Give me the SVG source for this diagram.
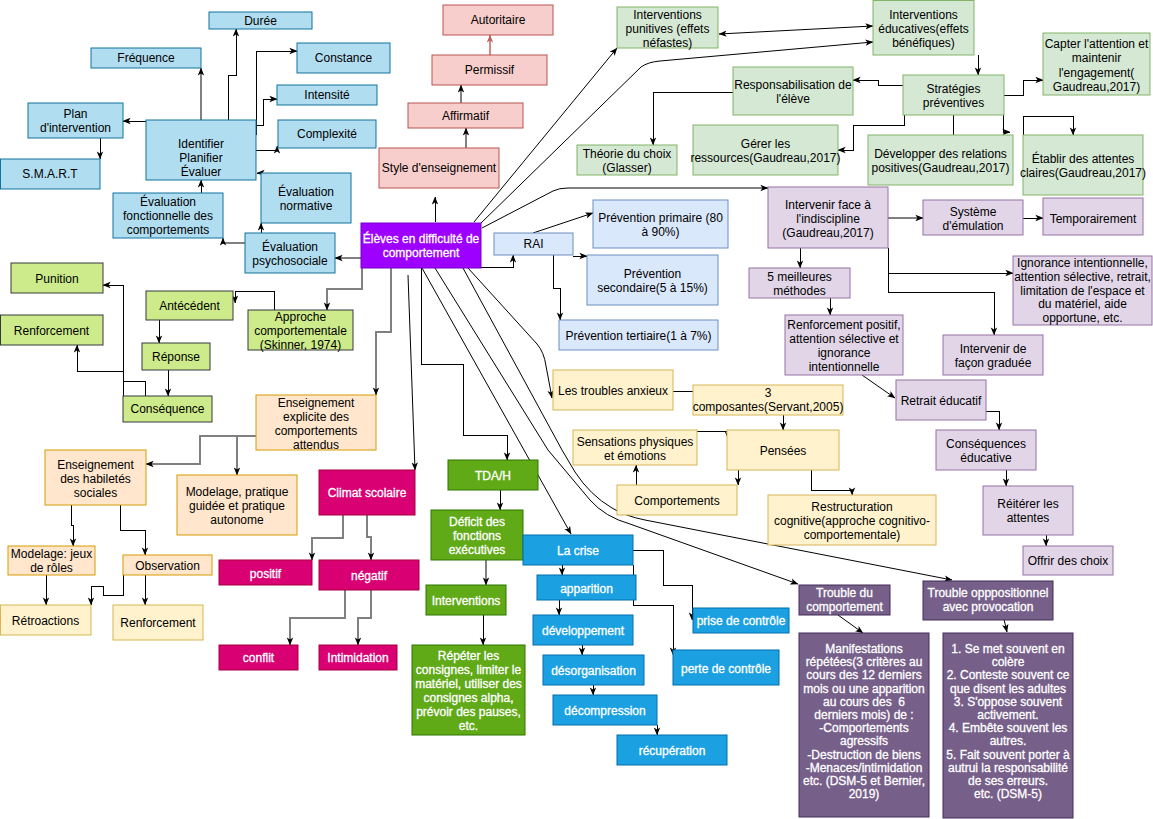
<svg xmlns="http://www.w3.org/2000/svg" width="1153" height="819" viewBox="0 0 1153 819">
<style>
text{font-family:"Liberation Sans",Arial,Helvetica,sans-serif;font-size:12px;text-anchor:middle;fill:#000}
.w{fill:#fff;stroke:#fff;stroke-width:0.3}
rect{stroke-width:1}
.blue{fill:#b1ddf0;stroke:#10739e}
.pink{fill:#f8cecc;stroke:#b85450}
.lg{fill:#d5e8d4;stroke:#82b366}
.lb{fill:#dae8fc;stroke:#6c8ebf}
.lp{fill:#e1d5e7;stroke:#9673a6}
.lime{fill:#cdeb8b;stroke:#36393d}
.or{fill:#ffe6cc;stroke:#d79b00}
.ye{fill:#fff2cc;stroke:#d6b656}
.mg{fill:#d80073;stroke:#a50040}
.dg{fill:#60a917;stroke:#2d7600}
.cr{fill:#1ba1e2;stroke:#006eaf}
.dp{fill:#76608a;stroke:#432d57}
.main{fill:#9d00ff;stroke:#7700cc}
#connectors path{fill:none;stroke:#000;stroke-width:1}
#connectors path.o{shape-rendering:crispEdges}
#connectors path.g{stroke:#808080;stroke-width:2}
#connectors path.pk{stroke:#d08a88;stroke-width:1.5}
</style>
<defs>
<marker id="a" viewBox="0 0 10 10" refX="9.5" refY="5" markerWidth="8" markerHeight="8" markerUnits="userSpaceOnUse" orient="auto-start-reverse"><path d="M0,1 L10,5 L0,9 L2.5,5 z" fill="#000"/></marker>
<marker id="ap" viewBox="0 0 10 10" refX="9.5" refY="5" markerWidth="8" markerHeight="8" markerUnits="userSpaceOnUse" orient="auto"><path d="M0,1 L10,5 L0,9 L2.5,5 z" fill="#c0605c"/></marker>
</defs>
<g id="connectors">
<path class="o g" d="M201,120 V68" marker-end="url(#a)"/>
<path class="o" d="M228,120 V75 H236 V29" marker-end="url(#a)"/>
<path class="o" d="M256,135 V51 H297" marker-end="url(#a)"/>
<path class="o" d="M256,125 H263 V99 H277" marker-end="url(#a)"/>
<path class="o" d="M256,150 H277 V146" marker-end="url(#a)"/>
<path class="o" d="M146,121 H123" marker-end="url(#a)"/>
<path class="o" d="M100,138 V159" marker-end="url(#a)"/>
<path class="o" d="M201,193 V180" marker-end="url(#a)"/>
<path class="o" d="M284,173 H257" marker-end="url(#a)"/>
<path class="o" d="M261,233 V223" marker-end="url(#a)"/>
<path class="o g" d="M245,243 H223 V238" marker-end="url(#a)"/>
<path class="o g" d="M361,258 H335" marker-end="url(#a)"/>
<path class="o" d="M435,222 V197" marker-end="url(#a)"/>
<path class="o g" d="M466,148 V128" marker-end="url(#a)"/>
<path class="o g" d="M461,103 V85" marker-end="url(#a)"/>
<path class="o pk" d="M490,55 V35" marker-end="url(#ap)"/>
<path class="o" d="M481,267 H513 V255" marker-end="url(#a)"/>
<path class="o" d="M573,256 H587" marker-end="url(#a)"/>
<path class="o" d="M553,255 V288 H560 V320" marker-end="url(#a)"/>
<path class="o g" d="M362,268 V289 H327 V310" marker-end="url(#a)"/>
<path class="o" d="M274,310 V291 H235 V303" marker-end="url(#a)"/>
<path class="o" d="M159,320 V343" marker-end="url(#a)"/>
<path class="o" d="M168,370 V396" marker-end="url(#a)"/>
<path class="o" d="M123,396 V285 H103" marker-end="url(#a)"/>
<path class="o" d="M145,396 V381 H123 V371 H77 V345" marker-end="url(#a)"/>
<path class="o g" d="M391,268 V332 H376 V395" marker-end="url(#a)"/>
<path class="o" d="M421,268 V364 H463 V435 H507 V460" marker-end="url(#a)"/>
<path class="o" d="M673,391 H693"/>
<path class="o" d="M783,415 V430" marker-end="url(#a)"/>
<path class="o" d="M697,431 H728 V439" marker-end="url(#a)"/>
<path class="o" d="M636,485 V465" marker-end="url(#a)"/>
<path class="o" d="M738,470 V485" marker-end="url(#a)"/>
<path class="o" d="M811,470 V490 H852 V495" marker-end="url(#a)"/>
<path class="o" d="M562,565 V575" marker-end="url(#a)"/>
<path class="o" d="M559,600 V615" marker-end="url(#a)"/>
<path class="o" d="M582,645 V655" marker-end="url(#a)"/>
<path class="o" d="M593,685 V695" marker-end="url(#a)"/>
<path class="o" d="M657,725 V735" marker-end="url(#a)"/>
<path class="o" d="M633,550 H663 V585 H692 V620" marker-end="url(#a)"/>
<path class="o" d="M633,565 V605 H673 V655" marker-end="url(#a)"/>
<path class="o" d="M500,490 V510" marker-end="url(#a)"/>
<path class="o g" d="M486,560 V585" marker-end="url(#a)"/>
<path class="o" d="M483,615 V645" marker-end="url(#a)"/>
<path class="o g" d="M343,515 V538 H312 V560" marker-end="url(#a)"/>
<path class="o g" d="M367,515 V537 H371 V560" marker-end="url(#a)"/>
<path class="o g" d="M345,590 V618 H290 V645" marker-end="url(#a)"/>
<path class="o g" d="M371,590 V618 H358 V645" marker-end="url(#a)"/>
<path class="o g" d="M256,436 H200 V464 H146" marker-end="url(#a)"/>
<path class="o g" d="M237,436 V475" marker-end="url(#a)"/>
<path class="o" d="M71,505 V525 H73 V546" marker-end="url(#a)"/>
<path class="o" d="M120,505 V530 H145 V555" marker-end="url(#a)"/>
<path class="o" d="M46,575 V605" marker-end="url(#a)"/>
<path class="o" d="M123,575 V595 H103 V586 H91 V605" marker-end="url(#a)"/>
<path class="o" d="M145,575 V605" marker-end="url(#a)"/>
<path class="o" d="M1004,95 H1023 V80 H1043" marker-end="url(#a)"/>
<path class="o" d="M978,55 V75" marker-end="url(#a)"/>
<path class="o" d="M903,85 H878 V80 H853" marker-end="url(#a)"/>
<path class="o" d="M733,92 H653 V145" marker-end="url(#a)"/>
<path class="o" d="M904,115 V125 H853 V150 H838" marker-end="url(#a)"/>
<path class="o" d="M953,115 V135"/>
<path class="o" d="M1003,115 V132 H1010" marker-end="url(#a)"/>
<path class="o" d="M1023,135 V116 H1073 V135" marker-end="url(#a)"/>
<path class="o g" d="M888,218 H923" marker-end="url(#a)"/>
<path class="o" d="M1023,218 H1043" marker-end="url(#a)"/>
<path class="o" d="M800,248 V268" marker-end="url(#a)"/>
<path class="o" d="M888,248 V273 H1013" marker-end="url(#a)"/>
<path class="o" d="M888,273 V292 H994 V335" marker-end="url(#a)"/>
<path class="o" d="M830,298 V315" marker-end="url(#a)"/>
<path class="o" d="M986,411 H999 V430" marker-end="url(#a)"/>
<path class="o" d="M1006,470 V486" marker-end="url(#a)"/>
<path class="o" d="M1046,535 V546" marker-end="url(#a)"/>
<path d="M474,222 L617,48" marker-end="url(#a)"/>
<path d="M719,34 L873,26" marker-start="url(#a)" marker-end="url(#a)"/>
<path d="M480,224 L641,67 Q648,62 660,61 L873,42" marker-end="url(#a)"/>
<path d="M482,228 L553,191 Q559,188 568,188 H768" marker-end="url(#a)"/>
<path d="M533,233 L593,213" marker-end="url(#a)"/>
<path d="M408,275 L415,470" marker-end="url(#a)"/>
<path d="M422,268 L571,534" marker-end="url(#a)"/>
<path d="M468,268 L537,344 Q544,352 546,366 L552,398" marker-end="url(#a)"/>
<path d="M435,268 L548,450 L590,500 Q605,517 630,524 L798,584" marker-end="url(#a)"/>
<path d="M463,268 L562,450 L575,472 Q590,495 612,508 Q625,516 645,520 L952,580" marker-end="url(#a)"/>
<path d="M862,375 L895,398" marker-end="url(#a)"/>
<path d="M838,615 L863,633" marker-end="url(#a)"/>
<path d="M1003,615 L1007,632" marker-end="url(#a)"/>
</g>
<g id="n-duree"><rect class="blue" x="209" y="12" width="103" height="17"/><text x="260.5" y="24.5">Durée</text></g>
<g id="n-frequence"><rect class="blue" x="91" y="48" width="110" height="20"/><text x="146" y="62">Fréquence</text></g>
<g id="n-constance"><rect class="blue" x="297" y="43" width="93" height="30"/><text x="343.5" y="62">Constance</text></g>
<g id="n-intensite"><rect class="blue" x="277" y="85" width="100" height="20"/><text x="327" y="99">Intensité</text></g>
<g id="n-complexite"><rect class="blue" x="278" y="120" width="98" height="28"/><text x="327" y="138">Complexité</text></g>
<g id="n-plan"><rect class="blue" x="28" y="103" width="95" height="35"/><text x="75.5" y="118"><tspan x="75.5">Plan</tspan><tspan x="75.5" dy="14">d'intervention</tspan></text></g>
<g id="n-smart"><rect class="blue" x="0.5" y="159" width="99.5" height="30"/><text x="50" y="178">S.M.A.R.T</text></g>
<g id="n-identifier"><rect class="blue" x="146" y="120" width="110" height="60"/><text x="201" y="148"><tspan x="201">Identifier</tspan><tspan x="201" dy="14">Planifier</tspan><tspan x="201" dy="14">Évaluer</tspan></text></g>
<g id="n-fonctionnelle"><rect class="blue" x="113" y="193" width="110" height="45"/><text x="168" y="206"><tspan x="168">Évaluation</tspan><tspan x="168" dy="14">fonctionnelle des</tspan><tspan x="168" dy="14">comportements</tspan></text></g>
<g id="n-normative"><rect class="blue" x="261" y="173" width="90" height="50"/><text x="306" y="196"><tspan x="306">Évaluation</tspan><tspan x="306" dy="14">normative</tspan></text></g>
<g id="n-psychosociale"><rect class="blue" x="245" y="233" width="90" height="40"/><text x="290" y="251"><tspan x="290">Évaluation</tspan><tspan x="290" dy="14">psychosociale</tspan></text></g>
<g id="n-eleves"><rect class="main" x="361" y="223" width="120" height="45"/><text class="w" x="421" y="243"><tspan x="421">Élèves en difficulté de</tspan><tspan x="421" dy="14">comportement</tspan></text></g>
<g id="n-autoritaire"><rect class="pink" x="443" y="5" width="110" height="30"/><text x="498" y="24">Autoritaire</text></g>
<g id="n-permissif"><rect class="pink" x="432" y="55" width="115" height="30"/><text x="489.5" y="74">Permissif</text></g>
<g id="n-affirmatif"><rect class="pink" x="408" y="103" width="115" height="25"/><text x="465.5" y="120">Affirmatif</text></g>
<g id="n-style"><rect class="pink" x="379" y="148" width="120" height="40"/><text x="439" y="172">Style d'enseignement</text></g>
<g id="n-punitives"><rect class="lg" x="617" y="7" width="101" height="41"/><text x="667.5" y="19"><tspan x="667.5">Interventions</tspan><tspan x="667.5" dy="14">punitives (effets</tspan><tspan x="667.5" dy="14">néfastes)</tspan></text></g>
<g id="n-educatives"><rect class="lg" x="873" y="0.5" width="101" height="54.5"/><text x="923.5" y="19"><tspan x="923.5">Interventions</tspan><tspan x="923.5" dy="14">éducatives(effets</tspan><tspan x="923.5" dy="14">bénéfiques)</tspan></text></g>
<g id="n-capter"><rect class="lg" x="1043" y="33" width="107" height="62"/><text x="1096.5" y="48"><tspan x="1096.5">Capter l'attention et</tspan><tspan x="1096.5" dy="14.3">maintenir</tspan><tspan x="1096.5" dy="14.3">l'engagement(</tspan><tspan x="1096.5" dy="14.3">Gaudreau,2017)</tspan></text></g>
<g id="n-strategies"><rect class="lg" x="903" y="75" width="101" height="40"/><text x="953.5" y="93"><tspan x="953.5">Stratégies</tspan><tspan x="953.5" dy="14">préventives</tspan></text></g>
<g id="n-responsabilisation"><rect class="lg" x="733" y="67" width="120" height="48"/><text x="793" y="89"><tspan x="793">Responsabilisation de</tspan><tspan x="793" dy="14">l'élève</tspan></text></g>
<g id="n-theorie"><rect class="lg" x="577" y="145" width="100" height="30"/><text x="627" y="158"><tspan x="627">Théorie du choix</tspan><tspan x="627" dy="14">(Glasser)</tspan></text></g>
<g id="n-gerer"><rect class="lg" x="693" y="125" width="145" height="50"/><text x="765.5" y="148"><tspan x="765.5">Gérer les</tspan><tspan x="765.5" dy="14">ressources(Gaudreau,2017)</tspan></text></g>
<g id="n-developper"><rect class="lg" x="868" y="135" width="145" height="50"/><text x="940.5" y="158"><tspan x="940.5">Développer des relations</tspan><tspan x="940.5" dy="14">positives(Gaudreau,2017)</tspan></text></g>
<g id="n-etablir"><rect class="lg" x="1023" y="135" width="120" height="60"/><text x="1083" y="163"><tspan x="1083">Établir des attentes</tspan><tspan x="1083" dy="14">claires(Gaudreau,2017)</tspan></text></g>
<g id="n-primaire"><rect class="lb" x="593" y="200" width="135" height="48"/><text x="660.5" y="222"><tspan x="660.5">Prévention primaire (80</tspan><tspan x="660.5" dy="14">à 90%)</tspan></text></g>
<g id="n-rai"><rect class="lb" x="494" y="233" width="79" height="22"/><text x="533.5" y="248">RAI</text></g>
<g id="n-secondaire"><rect class="lb" x="587" y="255" width="131" height="50"/><text x="652.5" y="278"><tspan x="652.5">Prévention</tspan><tspan x="652.5" dy="14">secondaire(5 à 15%)</tspan></text></g>
<g id="n-tertiaire"><rect class="lb" x="559" y="320" width="159" height="30"/><text x="638.5" y="340">Prévention tertiaire(1 à 7%)</text></g>
<g id="n-intervenir"><rect class="lp" x="768" y="187" width="120" height="61"/><text x="828" y="209"><tspan x="828">Intervenir face à</tspan><tspan x="828" dy="14">l'indiscipline</tspan><tspan x="828" dy="14">(Gaudreau,2017)</tspan></text></g>
<g id="n-systeme"><rect class="lp" x="923" y="200" width="100" height="35"/><text x="973" y="216"><tspan x="973">Système</tspan><tspan x="973" dy="14">d'émulation</tspan></text></g>
<g id="n-temporairement"><rect class="lp" x="1043" y="198" width="100" height="37"/><text x="1093" y="223">Temporairement</text></g>
<g id="n-ignorance"><rect class="lp" x="1013" y="256" width="139" height="69"/><text x="1082.5" y="267"><tspan x="1082.5">Ignorance intentionnelle,</tspan><tspan x="1082.5" dy="13.75">attention sélective, retrait,</tspan><tspan x="1082.5" dy="13.75">limitation de l'espace et</tspan><tspan x="1082.5" dy="13.75">du matériel, aide</tspan><tspan x="1082.5" dy="13.75">opportune, etc.</tspan></text></g>
<g id="n-meilleures"><rect class="lp" x="749" y="268" width="101" height="30"/><text x="799.5" y="281"><tspan x="799.5">5 meilleures</tspan><tspan x="799.5" dy="14">méthodes</tspan></text></g>
<g id="n-renfpositif"><rect class="lp" x="785" y="315" width="118" height="60"/><text x="844" y="329"><tspan x="844">Renforcement positif,</tspan><tspan x="844" dy="14">attention sélective et</tspan><tspan x="844" dy="14">ignorance</tspan><tspan x="844" dy="14">intentionnelle</tspan></text></g>
<g id="n-graduee"><rect class="lp" x="943" y="335" width="100" height="40"/><text x="993" y="353"><tspan x="993">Intervenir de</tspan><tspan x="993" dy="14">façon graduée</tspan></text></g>
<g id="n-retrait"><rect class="lp" x="896" y="380" width="90" height="40"/><text x="941" y="405">Retrait éducatif</text></g>
<g id="n-consequences-ed"><rect class="lp" x="936" y="430" width="100" height="40"/><text x="986" y="448"><tspan x="986">Conséquences</tspan><tspan x="986" dy="14">éducative</tspan></text></g>
<g id="n-reiterer"><rect class="lp" x="983" y="486" width="90" height="49"/><text x="1028" y="508"><tspan x="1028">Réitérer les</tspan><tspan x="1028" dy="14">attentes</tspan></text></g>
<g id="n-offrir"><rect class="lp" x="1023" y="546" width="90" height="29"/><text x="1068" y="565">Offrir des choix</text></g>
<g id="n-punition"><rect class="lime" x="11" y="263" width="92" height="30"/><text x="57" y="283">Punition</text></g>
<g id="n-renforcement1"><rect class="lime" x="0.5" y="315" width="102.5" height="30"/><text x="51.5" y="335">Renforcement</text></g>
<g id="n-antecedent"><rect class="lime" x="146" y="291" width="87" height="29"/><text x="189.5" y="310">Antécédent</text></g>
<g id="n-reponse"><rect class="lime" x="142" y="343" width="68" height="27"/><text x="176" y="361">Réponse</text></g>
<g id="n-consequence"><rect class="lime" x="123" y="396" width="89" height="26"/><text x="167.5" y="413">Conséquence</text></g>
<g id="n-approche"><rect class="lime" x="248" y="310" width="105" height="40"/><text x="300.5" y="321"><tspan x="300.5">Approche</tspan><tspan x="300.5" dy="14">comportementale</tspan><tspan x="300.5" dy="14">(Skinner, 1974)</tspan></text></g>
<g id="n-explicite"><rect class="or" x="256" y="395" width="120" height="55"/><text x="316" y="407"><tspan x="316">Enseignement</tspan><tspan x="316" dy="14">explicite des</tspan><tspan x="316" dy="14">comportements</tspan><tspan x="316" dy="14">attendus</tspan></text></g>
<g id="n-habiletes"><rect class="or" x="45" y="450" width="101" height="55"/><text x="95.5" y="469"><tspan x="95.5">Enseignement</tspan><tspan x="95.5" dy="14">des habiletés</tspan><tspan x="95.5" dy="14">sociales</tspan></text></g>
<g id="n-modelage"><rect class="or" x="177" y="475" width="120" height="60"/><text x="237" y="496"><tspan x="237">Modelage, pratique</tspan><tspan x="237" dy="14">guidée et pratique</tspan><tspan x="237" dy="14">autonome</tspan></text></g>
<g id="n-jeux"><rect class="or" x="8" y="546" width="87" height="29"/><text x="51.5" y="558"><tspan x="51.5">Modelage: jeux</tspan><tspan x="51.5" dy="14">de rôles</tspan></text></g>
<g id="n-observation"><rect class="or" x="123" y="555" width="89" height="20"/><text x="167.5" y="570">Observation</text></g>
<g id="n-retroactions"><rect class="ye" x="0.5" y="605" width="90.5" height="30"/><text x="45.5" y="625">Rétroactions</text></g>
<g id="n-renforcement2"><rect class="ye" x="113" y="605" width="90" height="35"/><text x="158" y="627">Renforcement</text></g>
<g id="n-anxieux"><rect class="ye" x="553" y="370" width="120" height="40"/><text x="613" y="395">Les troubles anxieux</text></g>
<g id="n-composantes"><rect class="ye" x="693" y="385" width="150" height="30"/><text x="768" y="397"><tspan x="768">3</tspan><tspan x="768" dy="14">composantes(Servant,2005)</tspan></text></g>
<g id="n-sensations"><rect class="ye" x="573" y="430" width="124" height="35"/><text x="635" y="446"><tspan x="635">Sensations physiques</tspan><tspan x="635" dy="14">et émotions</tspan></text></g>
<g id="n-pensees"><rect class="ye" x="727" y="430" width="112" height="40"/><text x="783" y="455">Pensées</text></g>
<g id="n-comportements"><rect class="ye" x="617" y="485" width="120" height="30"/><text x="677" y="505">Comportements</text></g>
<g id="n-restructuration"><rect class="ye" x="768" y="495" width="168" height="50"/><text x="852" y="511"><tspan x="852">Restructuration</tspan><tspan x="852" dy="14">cognitive(approche cognitivo-</tspan><tspan x="852" dy="14">comportementale)</tspan></text></g>
<g id="n-climat"><rect class="mg" x="319" y="470" width="96" height="45"/><text class="w" x="367" y="497">Climat scolaire</text></g>
<g id="n-positif"><rect class="mg" x="219" y="560" width="93" height="25"/><text class="w" x="265.5" y="578">positif</text></g>
<g id="n-negatif"><rect class="mg" x="319" y="560" width="100" height="30"/><text class="w" x="369" y="580">négatif</text></g>
<g id="n-conflit"><rect class="mg" x="219" y="645" width="79" height="25"/><text class="w" x="258.5" y="662">conflit</text></g>
<g id="n-intimidation"><rect class="mg" x="319" y="645" width="78" height="25"/><text class="w" x="358" y="662">Intimidation</text></g>
<g id="n-tdah"><rect class="dg" x="448" y="460" width="90" height="30"/><text class="w" x="493" y="480">TDA/H</text></g>
<g id="n-deficit"><rect class="dg" x="431" y="510" width="92" height="50"/><text class="w" x="477" y="526"><tspan x="477">Déficit des</tspan><tspan x="477" dy="14">fonctions</tspan><tspan x="477" dy="14">exécutives</tspan></text></g>
<g id="n-interventions"><rect class="dg" x="426" y="585" width="80" height="30"/><text class="w" x="466" y="605">Interventions</text></g>
<g id="n-repeter"><rect class="dg" x="412" y="645" width="113" height="90"/><text class="w" x="468.5" y="660"><tspan x="468.5">Répéter les</tspan><tspan x="468.5" dy="14">consignes, limiter le</tspan><tspan x="468.5" dy="14">matériel, utiliser des</tspan><tspan x="468.5" dy="14">consignes alpha,</tspan><tspan x="468.5" dy="14">prévoir des pauses,</tspan><tspan x="468.5" dy="14">etc.</tspan></text></g>
<g id="n-crise"><rect class="cr" x="523" y="535" width="110" height="30"/><text class="w" x="578" y="555">La crise</text></g>
<g id="n-apparition"><rect class="cr" x="537" y="575" width="99" height="25"/><text class="w" x="586.5" y="593">apparition</text></g>
<g id="n-developpement"><rect class="cr" x="533" y="615" width="100" height="30"/><text class="w" x="583" y="635">développement</text></g>
<g id="n-desorganisation"><rect class="cr" x="543" y="655" width="101" height="30"/><text class="w" x="593.5" y="675">désorganisation</text></g>
<g id="n-decompression"><rect class="cr" x="553" y="695" width="104" height="30"/><text class="w" x="605" y="715">décompression</text></g>
<g id="n-recuperation"><rect class="cr" x="617" y="735" width="110" height="30"/><text class="w" x="672" y="755">récupération</text></g>
<g id="n-prise"><rect class="cr" x="693" y="608" width="96" height="25"/><text class="w" x="741" y="625">prise de contrôle</text></g>
<g id="n-perte"><rect class="cr" x="673" y="650" width="106" height="35"/><text class="w" x="726" y="673">perte de contrôle</text></g>
<g id="n-trouble-comportement"><rect class="dp" x="799" y="585" width="91" height="30"/><text class="w" x="844.5" y="597"><tspan x="844.5">Trouble du</tspan><tspan x="844.5" dy="14">comportement</tspan></text></g>
<g id="n-trouble-oppositionnel"><rect class="dp" x="923" y="581" width="130" height="39"/><text class="w" x="988" y="597"><tspan x="988">Trouble opppositionnel</tspan><tspan x="988" dy="14">avec provocation</tspan></text></g>
<g id="n-manifestations"><rect class="dp" x="799" y="633" width="130" height="184"/><text class="w" x="864" y="653"><tspan x="864">Manifestations</tspan><tspan x="864" dy="13.2">répétées(3 critères au</tspan><tspan x="864" dy="13.2">cours des 12 derniers</tspan><tspan x="864" dy="13.2">mois ou une apparition</tspan><tspan x="864" dy="13.2">au cours des &#160;6</tspan><tspan x="864" dy="13.2">derniers mois) de :</tspan><tspan x="864" dy="13.2">-Comportements</tspan><tspan x="864" dy="13.2">agressifs</tspan><tspan x="864" dy="13.2">-Destruction de biens</tspan><tspan x="864" dy="13.2">-Menaces/intimidation</tspan><tspan x="864" dy="13.2">etc. (DSM-5 et Bernier,</tspan><tspan x="864" dy="13.2">2019)</tspan></text></g>
<g id="n-criteres"><rect class="dp" x="943" y="633" width="130" height="185"/><text class="w" x="1008" y="653"><tspan x="1008">1. Se met souvent en</tspan><tspan x="1008" dy="13.2">colère</tspan><tspan x="1008" dy="13.2">2. Conteste souvent ce</tspan><tspan x="1008" dy="13.2">que disent les adultes</tspan><tspan x="1008" dy="13.2">3. S'oppose souvent</tspan><tspan x="1008" dy="13.2">activement.</tspan><tspan x="1008" dy="13.2">4. Embête souvent les</tspan><tspan x="1008" dy="13.2">autres.</tspan><tspan x="1008" dy="13.2">5. Fait souvent porter à</tspan><tspan x="1008" dy="13.2">autrui la responsabilité</tspan><tspan x="1008" dy="13.2">de ses erreurs.</tspan><tspan x="1008" dy="13.2">etc. (DSM-5)</tspan></text></g>
</svg>
